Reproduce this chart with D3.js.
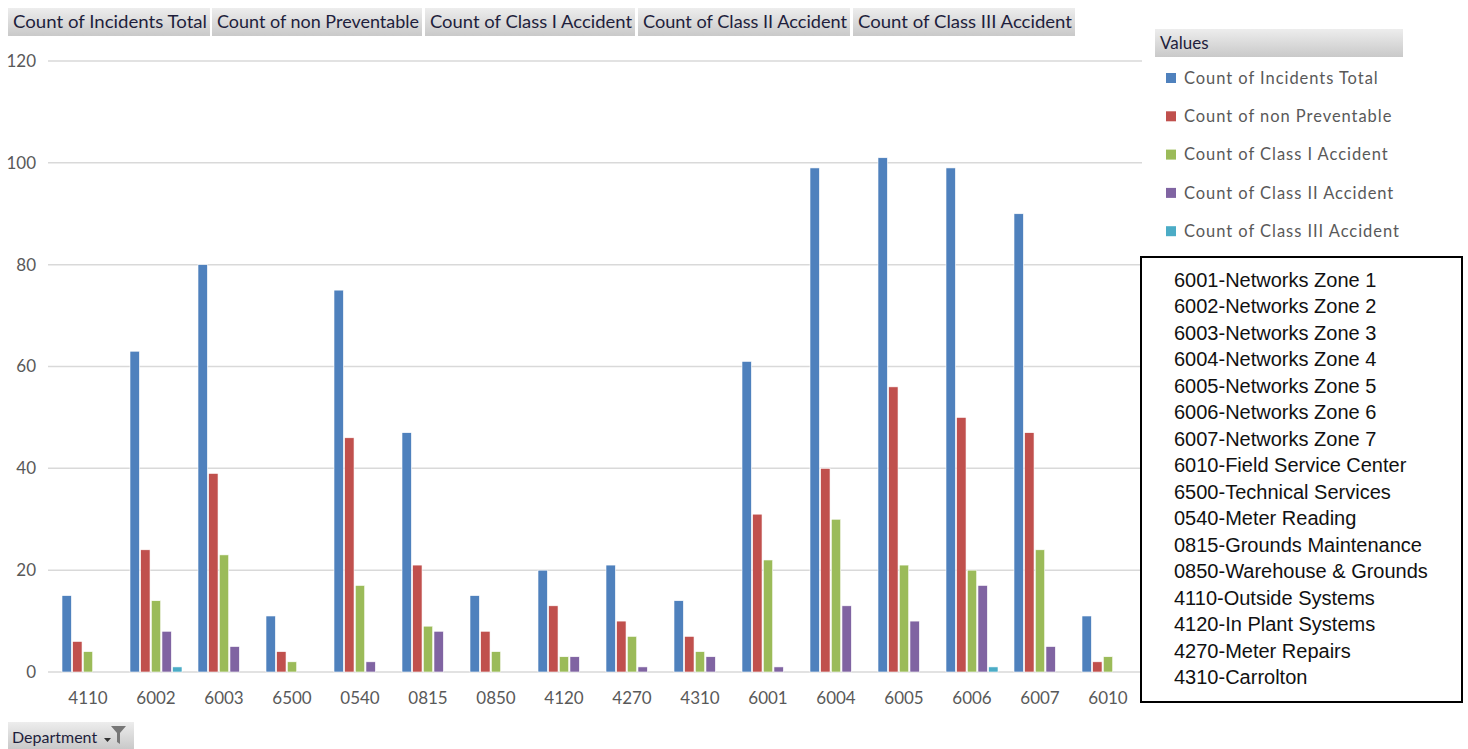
<!DOCTYPE html>
<html>
<head>
<meta charset="utf-8">
<script src="https://cdn.jsdelivr.net/npm/d3@7"></script>
<style>
  body { margin: 0; background: #fff; }
  svg { display: block; }
  .tick text { font-family: Lato, "Open Sans", sans-serif; font-size: 17px; fill: #595959; }
</style>
</head>
<body>
<svg id="chart" width="1468" height="749"></svg>
<script>
const departments = ['4110', '6002', '6003', '6500', '0540', '0815', '0850', '4120',
  '4270', '4310', '6001', '6004', '6005', '6006', '6007', '6010']
const seriesNames = ['Count of Incidents Total', 'Count of non Preventable',
  'Count of Class I Accident', 'Count of Class II Accident', 'Count of Class III Accident']
const incidentsTotal = [15, 63, 80, 11, 75, 47, 15, 20, 21, 14, 61, 99, 101, 99, 90, 11]
const nonPreventable = [6, 24, 39, 4, 46, 21, 8, 13, 10, 7, 31, 40, 56, 50, 47, 2]
const classI = [4, 14, 23, 2, 17, 9, 4, 3, 7, 4, 22, 30, 21, 20, 24, 3]
const classII = [0, 8, 5, 0, 2, 8, 0, 3, 1, 3, 1, 13, 10, 17, 5, 0]
const classIII = [0, 1, 0, 0, 0, 0, 0, 0, 0, 0, 0, 0, 0, 1, 0, 0]
const yTicks = [0, 20, 40, 60, 80, 100, 120]
const deptNames = ['6001-Networks Zone 1', '6002-Networks Zone 2', '6003-Networks Zone 3',
  '6004-Networks Zone 4', '6005-Networks Zone 5', '6006-Networks Zone 6', '6007-Networks Zone 7',
  '6010-Field Service Center', '6500-Technical Services', '0540-Meter Reading',
  '0815-Grounds Maintenance', '0850-Warehouse & Grounds', '4110-Outside Systems',
  '4120-In Plant Systems', '4270-Meter Repairs', '4310-Carrolton']
const colors = ['#4f81bd', '#c0504d', '#9bbb59', '#8064a2', '#4bacc6']

const seriesValues = [incidentsTotal, nonPreventable, classI, classII, classIII]
const rows = departments.map((d, i) => ({
  dept: d,
  values: seriesNames.map((s, k) => ({ key: s, value: seriesValues[k][i] }))
}))

const svg = d3.select('#chart')
const font = 'Lato, "Open Sans", sans-serif'

// gradient for the pivot field buttons
const defs = svg.append('defs')
const grad = defs.append('linearGradient').attr('id', 'btn').attr('x1', 0).attr('y1', 0).attr('x2', 0).attr('y2', 1)
grad.append('stop').attr('offset', '0%').attr('stop-color', '#ededed')
grad.append('stop').attr('offset', '100%').attr('stop-color', '#c9c9c9')

const x0 = d3.scaleBand().domain(departments).range([54, 1142]).paddingInner(16 / 68).paddingOuter(8 / 68)
const x1 = d3.scaleBand().domain(seriesNames).range([0, x0.bandwidth()]).paddingInner(0.12)
const y = d3.scaleLinear().domain([0, 120]).range([672, 61])

// gridlines
svg.append('g')
  .selectAll('line')
  .data(yTicks)
  .join('line')
  .attr('x1', 48).attr('x2', 1142)
  .attr('y1', d => y(d)).attr('y2', d => y(d))
  .attr('stroke', '#d9d9d9').attr('stroke-width', 1.5)

// y axis labels
const yAxis = svg.append('g')
  .attr('transform', 'translate(36,0)')
  .call(d3.axisLeft(y).tickValues(yTicks).tickSize(0).tickPadding(0))
yAxis.select('.domain').remove()

// x axis labels
const xAxis = svg.append('g')
  .attr('transform', 'translate(0,689)')
  .call(d3.axisBottom(x0).tickSize(0).tickPadding(0))
xAxis.select('.domain').remove()
xAxis.selectAll('text').attr('dy', '0.9em')

// bars
svg.append('g')
  .selectAll('g')
  .data(rows)
  .join('g')
  .attr('transform', d => `translate(${x0(d.dept)},0)`)
  .selectAll('rect')
  .data(d => d.values.filter(v => v.value > 0))
  .join('rect')
  .attr('x', d => x1(d.key))
  .attr('width', x1.bandwidth())
  .attr('y', d => y(d.value))
  .attr('height', d => y(0) - y(d.value))
  .attr('fill', d => colors[seriesNames.indexOf(d.key)])
  .attr('stroke', '#fff').attr('stroke-width', 0.6)

// field buttons at the top
const btnX = [8, 212, 425, 638, 853]
const btnW = [202, 210, 210, 212, 222]
const buttons = svg.append('g')
  .selectAll('g')
  .data(seriesNames)
  .join('g')
  .attr('transform', (d, i) => `translate(${btnX[i]},8)`)
buttons.append('rect')
  .attr('width', (d, i) => btnW[i]).attr('height', 28)
  .attr('fill', 'url(#btn)')
buttons.append('text')
  .attr('x', 5).attr('y', 20)
  .attr('font-family', font).attr('font-size', 17)
  .attr('textLength', (d, i) => btnW[i] - 8)
  .attr('lengthAdjust', 'spacingAndGlyphs')
  .attr('fill', '#1e1e3c')
  .text(d => d)

// legend
const legend = svg.append('g').attr('transform', 'translate(1155,29)')
legend.append('rect').attr('width', 248).attr('height', 28).attr('fill', 'url(#btn)')
legend.append('text').attr('x', 5).attr('y', 20)
  .attr('font-family', font).attr('font-size', 17).attr('fill', '#1e1e3c')
  .text('Values')
const items = legend.selectAll('g.item')
  .data(seriesNames)
  .join('g')
  .attr('class', 'item')
  .attr('transform', (d, i) => `translate(0,${49 + i * 38.3})`)
items.append('rect')
  .attr('x', 11).attr('y', -5).attr('width', 10).attr('height', 10)
  .attr('fill', (d, i) => colors[i])
items.append('text')
  .attr('x', 29).attr('y', 0).attr('dy', '0.35em')
  .attr('font-family', font).attr('font-size', 16.5)
  .attr('letter-spacing', 0.95)
  .attr('fill', '#595959')
  .text(d => d)

// department name box
const box = svg.append('g').attr('transform', 'translate(1140,256)')
box.append('rect')
  .attr('x', 1).attr('y', 1).attr('width', 321).attr('height', 445)
  .attr('fill', '#fff').attr('stroke', '#000').attr('stroke-width', 2)
box.selectAll('text')
  .data(deptNames)
  .join('text')
  .attr('x', 34)
  .attr('y', (d, i) => 24 + i * 26.47)
  .attr('dy', '0.35em')
  .attr('font-family', 'Liberation Sans')
  .attr('font-size', 20)
  .attr('fill', '#111')
  .text(d => d)

// Department filter button
const dep = svg.append('g').attr('transform', 'translate(8,722)')
dep.append('rect').attr('width', 126).attr('height', 27).attr('fill', 'url(#btn)')
dep.append('text').attr('x', 4).attr('y', 21)
  .attr('font-family', font).attr('font-size', 16).attr('fill', '#1e1e3c')
  .text('Department')
dep.append('path').attr('d', 'M96,16 h7 l-3.5,4 z').attr('fill', '#333')
dep.append('path').attr('d', 'M103,4 h15 l-6,7 v11 l-3,-2 v-9 z').attr('fill', '#777')
</script>
</body>
</html>
